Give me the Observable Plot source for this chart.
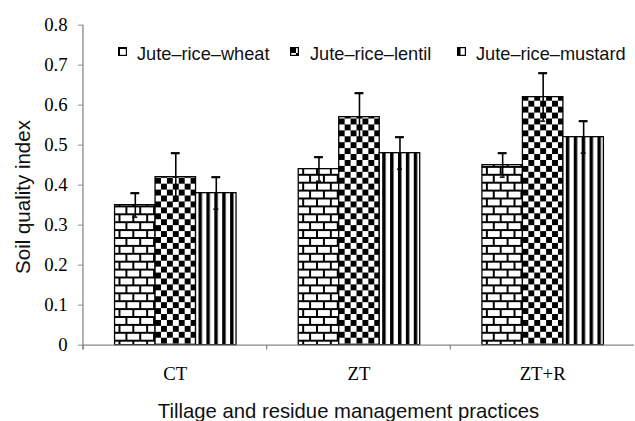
<!DOCTYPE html>
<html><head><meta charset="utf-8">
<script src="https://cdn.jsdelivr.net/npm/d3@7"></script>
<script src="https://cdn.jsdelivr.net/npm/@observablehq/plot@0.6"></script>
<style>
html,body{margin:0;padding:0;background:#fff;overflow:hidden;}
#wrap{position:relative;width:635px;height:421px;overflow:hidden;background:#fff;}
#wrap > svg{position:absolute;left:0;top:0;}
.t{position:absolute;font-family:"Liberation Sans",Arial,sans-serif;color:#111;white-space:nowrap;line-height:1;}
.sw{position:absolute;width:9px;height:9px;}
</style></head><body>
<div id="wrap"></div>
<script>
const categories = ["CT", "ZT", "ZT+R"];
const series = ["Jute–rice–wheat", "Jute–rice–lentil", "Jute–rice–mustard"];
const wheat = [0.35, 0.44, 0.45];
const wheatErr = [0.03, 0.03, 0.03];
const lentil = [0.42, 0.57, 0.62];
const lentilErr = [0.06, 0.06, 0.06];
const mustard = [0.38, 0.48, 0.52];
const mustardErr = [0.04, 0.04, 0.04];
const yTicks = [0, 0.1, 0.2, 0.3, 0.4, 0.5, 0.6, 0.7, 0.8];
const yTickLabels = ["0", "0.1", "0.2", "0.3", "0.4", "0.5", "0.6", "0.7", "0.8"];
const yTitle = "Soil quality index";
const xTitle = "Tillage and residue management practices";
const patternIds = ["pat-brick", "pat-check", "pat-stripe"];

const values = [wheat, lentil, mustard];
const errs = [wheatErr, lentilErr, mustardErr];
const rows = [];
series.forEach((s, i) => categories.forEach((c, j) => rows.push({category: c, series: s, value: values[i][j], err: errs[i][j]})));

const plot = Plot.plot({
  width: 643, height: 421,
  marginLeft: 83, marginRight: 0, marginTop: 25, marginBottom: 72,
  style: {background: "transparent", fontFamily: "'Liberation Serif', 'Times New Roman', serif", fontSize: "19px", color: "#000"},
  fx: {domain: categories, padding: 0},
  x: {domain: series, paddingInner: 0, paddingOuter: 0.738, axis: null},
  y: {domain: [0, 0.8], axis: null},
  color: {domain: series, range: patternIds.map(id => `url(#${id})`)},
  marks: [
    Plot.barY(rows, {fx: "category", x: "series", y: "value", fill: "series", stroke: "#000", strokeWidth: 1.3}),
    Plot.ruleX(rows, {fx: "category", x: "series", y1: d => d.value - d.err, y2: d => d.value + d.err, stroke: "#000", strokeWidth: 1.6}),
    Plot.tickY(rows, {fx: "category", x: "series", y: d => d.value + d.err, insetLeft: 16, insetRight: 16, stroke: "#000", strokeWidth: 2.2}),
    Plot.tickY(rows, {fx: "category", x: "series", y: d => d.value - d.err, insetLeft: 18, insetRight: 18, stroke: "#000", strokeWidth: 1.5}),
    Plot.ruleY([0], {stroke: "#888", strokeWidth: 1.3}),
    Plot.axisY({ticks: yTicks, tickFormat: d => yTickLabels[yTicks.indexOf(d)], tickSize: 5, tickPadding: 11, stroke: "#888", fill: "#000", fontSize: 19, label: null}),
    Plot.axisFx({anchor: "bottom", tickSize: 0, tickPadding: 22, fill: "#000", fontSize: 19, label: null})
  ]
});

const svg = d3.select(plot);
const defs = svg.insert("defs", ":first-child");
// brick
const pb = defs.append("pattern").attr("id", patternIds[0]).attr("patternUnits", "userSpaceOnUse").attr("width", 14).attr("height", 16);
pb.append("rect").attr("width", 14).attr("height", 16).attr("fill", "#fff");
[[0,0,14,2],[0,8,14,2],[0,0,2,8],[7,8,2,8]].forEach(r => pb.append("rect").attr("x", r[0]).attr("y", r[1]).attr("width", r[2]).attr("height", r[3]).attr("fill", "#000"));
// checker
const pc = defs.append("pattern").attr("id", patternIds[1]).attr("patternUnits", "userSpaceOnUse").attr("width", 12).attr("height", 12);
pc.append("rect").attr("width", 12).attr("height", 12).attr("fill", "#fff");
[[0,0,6,6],[6,6,6,6]].forEach(r => pc.append("rect").attr("x", r[0]).attr("y", r[1]).attr("width", r[2]).attr("height", r[3]).attr("fill", "#000"));
// stripes
const ps = defs.append("pattern").attr("id", patternIds[2]).attr("patternUnits", "userSpaceOnUse").attr("width", 8).attr("height", 8);
ps.append("rect").attr("width", 8).attr("height", 8).attr("fill", "#fff");
ps.append("rect").attr("width", 3.5).attr("height", 8).attr("fill", "#000");

// axis lines & category boundary ticks from the scales
const fxS = plot.scale("fx"), yS = plot.scale("y");
const g = svg.append("g").attr("stroke", "#888").attr("stroke-width", 1.3);
const y0 = yS.apply(0);
categories.forEach(c => {
  const xb = fxS.apply(c);
  g.append("line").attr("x1", xb).attr("x2", xb).attr("y1", y0).attr("y2", y0 + 5);
});
const xl = fxS.apply(categories[0]);
g.append("line").attr("x1", xl).attr("x2", xl).attr("y1", yS.apply(0.8)).attr("y2", y0 + 5);

const wrap = document.getElementById("wrap");
wrap.appendChild(plot);

// legend
const legendPos = [[118, 137], [290, 310], [457, 476]];
series.forEach((s, i) => {
  const sw = document.createElementNS("http://www.w3.org/2000/svg", "svg");
  sw.setAttribute("class", "sw");
  sw.setAttribute("width", 9); sw.setAttribute("height", 9);
  sw.style.left = legendPos[i][0] + "px"; sw.style.top = "47px";
  const r = document.createElementNS("http://www.w3.org/2000/svg", "rect");
  r.setAttribute("x", 0.6); r.setAttribute("y", 0.6); r.setAttribute("width", 7.8); r.setAttribute("height", 7.8);
  r.setAttribute("fill", `url(#${patternIds[i]})`); r.setAttribute("stroke", "#000"); r.setAttribute("stroke-width", 1.2);
  sw.appendChild(r);
  wrap.appendChild(sw);
  const t = document.createElement("div");
  t.className = "t";
  t.style.left = legendPos[i][1] + "px"; t.style.top = "44.5px"; t.style.fontSize = "18.2px";
  t.textContent = s;
  wrap.appendChild(t);
});

// axis titles
const xt = document.createElement("div");
xt.className = "t"; xt.textContent = xTitle;
xt.style.fontSize = "20.3px"; xt.style.left = "348.5px"; xt.style.top = "400.5px"; xt.style.transform = "translateX(-50%)";
wrap.appendChild(xt);
const yt = document.createElement("div");
yt.className = "t"; yt.textContent = yTitle;
yt.style.fontSize = "20.5px"; yt.style.left = "23px"; yt.style.top = "196.5px"; yt.style.transform = "translate(-50%,-50%) rotate(-90deg)";
wrap.appendChild(yt);
</script>
</body></html>
